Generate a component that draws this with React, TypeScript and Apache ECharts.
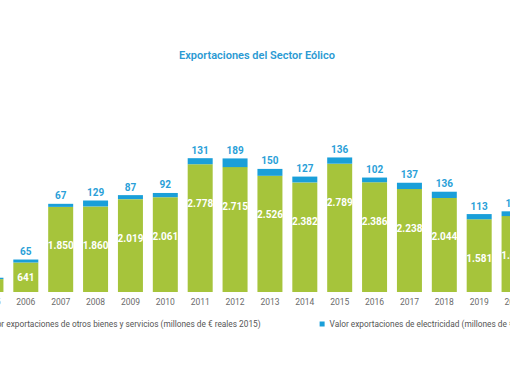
import React, { useEffect, useRef } from "react";
import * as echarts from "echarts";

const years = ["2005", "2006", "2007", "2008", "2009", "2010", "2011", "2012", "2013", "2014", "2015", "2016", "2017", "2018", "2019", "2020"];
const otrosBienes = [280, 641, 1850, 1860, 2019, 2061, 2778, 2715, 2526, 2382, 2789, 2386, 2238, 2044, 1581, 1650];
const electricidad = [30, 65, 67, 129, 87, 92, 131, 189, 150, 127, 136, 102, 137, 136, 113, 104];

const seriesNames = [
  "Valor exportaciones de otros bienes y servicios (millones de € reales 2015)",
  "Valor exportaciones de electricidad (millones de € reales 2015)",
];
const titleText = "Exportaciones del Sector Eólico";

const GREEN = "#a6c43b";
const BLUE = "#1a9fd9";
const OFFSET = 27; // the chart canvas starts left of the visible page

function fmt(v: number): string {
  return String(v).replace(/\B(?=(\d{3})+(?!\d))/g, ".");
}

export default function App() {
  const ref = useRef<HTMLDivElement>(null);
  useEffect(() => {
    document.body.style.margin = "0";
    document.body.style.overflow = "hidden";
    if (!ref.current) return;
    const chart = echarts.init(ref.current, null, { renderer: "svg" });
    const font = "Roboto, 'Noto Sans', sans-serif";
    chart.setOption({
      animation: false,
      backgroundColor: "#ffffff",
      textStyle: { fontFamily: font },
      graphic: [
        {
          type: "text",
          x: 257 + OFFSET,
          y: 55,
          style: {
            text: titleText,
            align: "center",
            verticalAlign: "middle",
            fill: "#2b9ad3",
            fontSize: 11,
            fontWeight: 600,
            fontFamily: font,
          },
        },
      ],
      grid: { left: 0.5, width: 558, top: 131, height: 161, containLabel: false },
      xAxis: {
        type: "category",
        data: years,
        axisLine: { show: false },
        axisTick: { show: false },
        axisLabel: { color: "#6b6b6b", fontSize: 8.5, margin: 5, fontFamily: font },
      },
      yAxis: { type: "value", min: 0, max: 3500, show: false, splitLine: { show: false } },
      legend: {
        left: OFFSET - 30,
        top: 315,
        itemWidth: 5,
        itemHeight: 5,
        itemGap: 59,
        icon: "rect",
        textStyle: { color: "#555555", fontSize: 8.3, fontFamily: font },
        data: seriesNames,
      },
      series: [
        {
          name: seriesNames[0],
          type: "bar",
          stack: "total",
          barWidth: 25,
          data: otrosBienes.map((v) => ({
            value: v,
            label: v < 1000 ? { position: "inside" } : undefined,
          })),
          itemStyle: { color: GREEN },
          label: {
            show: true,
            position: "insideTop",
            distance: 34,
            color: "#ffffff",
            fontWeight: "bold",
            fontSize: 10,
            fontFamily: font,
            formatter: (p: any) => fmt(p.value),
          },
        },
        {
          name: seriesNames[1],
          type: "bar",
          stack: "total",
          barWidth: 25,
          data: electricidad,
          itemStyle: { color: BLUE },
          label: {
            show: true,
            position: "top",
            distance: 3,
            color: "#2a9fd8",
            fontWeight: "bold",
            fontSize: 10,
            fontFamily: font,
            formatter: (p: any) => fmt(p.value),
          },
        },
      ],
    });
    return () => chart.dispose();
  }, []);
  return (
    <div
      ref={ref}
      style={{ position: "absolute", left: -OFFSET, top: 0, width: 700, height: 382 }}
    />
  );
}
